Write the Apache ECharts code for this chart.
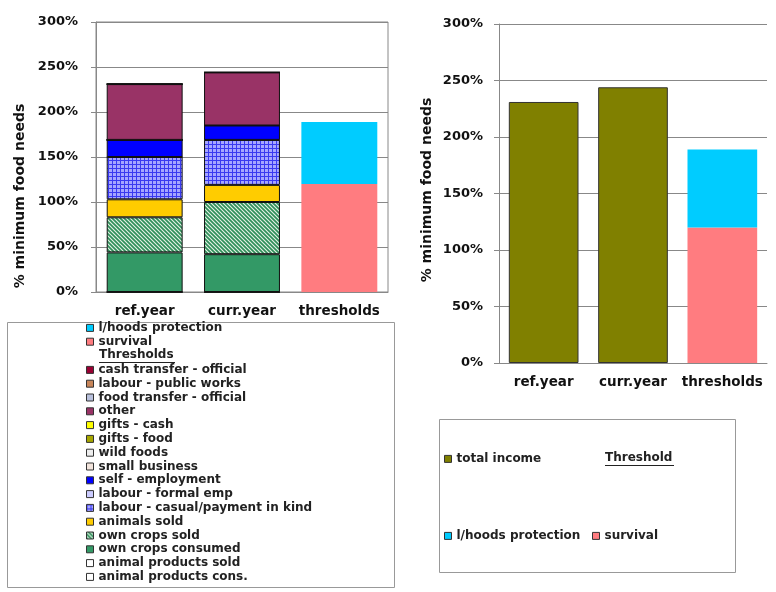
<!DOCTYPE html>
<html><head><meta charset="utf-8">
<script src="https://cdn.jsdelivr.net/npm/echarts@6/dist/echarts.min.js"></script>
<style>html,body{margin:0;padding:0;background:#fff}#c{width:776px;height:592px}</style>
</head><body><div id="c"></div>
<script>
// ---------- data ----------
const categories = ['ref.year', 'curr.year', 'thresholds'];
const yMin = 0, yMax = 300, yStep = 50;

const animalProductsCons   = [0, 0, '-'];
const animalProductsSold   = [0, 0, '-'];
const ownCropsConsumed     = [44, 42, '-'];
const ownCropsSold         = [39, 58, '-'];
const animalsSold          = [20, 19, '-'];
const labourCasual         = [47, 50, '-'];
const labourFormal         = [0, 0, '-'];
const selfEmployment       = [19, 16, '-'];
const smallBusiness        = [0, 0, '-'];
const wildFoods            = [0, 0, '-'];
const giftsFood            = [0, 0, '-'];
const giftsCash            = [0, 0, '-'];
const other                = [62, 59, '-'];
const foodTransfer         = [0, 0, '-'];
const labourPublicWorks    = [0, 0, '-'];
const cashTransfer         = [0, 0, '-'];
const survival             = ['-', '-', 120];
const livelihoodsProtect   = ['-', '-', 69];
const totalIncome          = [231, 244, '-'];

// ---------- styles ----------
const FONT = 'DejaVu Sans';
function hatchPattern() {
  const c = document.createElement('canvas'); c.width = 4; c.height = 4;
  const g = c.getContext('2d');
  g.fillStyle = '#2f8f5a'; g.fillRect(0, 0, 4, 4);
  g.strokeStyle = '#e6f2e6'; g.lineWidth = 1.1;
  g.beginPath();
  g.moveTo(-1, -1); g.lineTo(5, 5);
  g.moveTo(-1, 3); g.lineTo(1, 5);
  g.moveTo(3, -1); g.lineTo(5, 1);
  g.stroke();
  return c;
}
function gridPattern() {
  const c = document.createElement('canvas'); c.width = 4; c.height = 4;
  const g = c.getContext('2d');
  g.fillStyle = '#a6a6ff'; g.fillRect(0, 0, 4, 4);
  g.fillStyle = '#3a3af0';
  g.fillRect(0, 0, 4, 1); g.fillRect(0, 0, 1, 4);
  return c;
}
const hatch = { image: hatchPattern(), repeat: 'repeat' };
const gridFill = { image: gridPattern(), repeat: 'repeat' };

const leftDefs = [
  ['animal products cons.', animalProductsCons, '#ffffff'],
  ['animal products sold', animalProductsSold, '#ffffff'],
  ['own crops consumed', ownCropsConsumed, '#339966'],
  ['own crops sold', ownCropsSold, hatch],
  ['animals sold', animalsSold, '#ffcc00'],
  ['labour - casual/payment in kind', labourCasual, gridFill],
  ['labour - formal emp', labourFormal, '#ccccff'],
  ['self - employment', selfEmployment, '#0000ff'],
  ['small business', smallBusiness, '#f2e4dc'],
  ['wild foods', wildFoods, '#eeeeee'],
  ['gifts - food', giftsFood, '#a6a600'],
  ['gifts - cash', giftsCash, '#ffff00'],
  ['other', other, '#993366'],
  ['food transfer - official', foodTransfer, '#b8c0dc'],
  ['labour - public works', labourPublicWorks, '#c8865a'],
  ['cash transfer - official', cashTransfer, '#990033']
];

const series = leftDefs.map(([name, data, color]) => ({
  name, type: 'bar', stack: 'L', xAxisIndex: 0, yAxisIndex: 0,
  barWidth: '78%', data,
  itemStyle: { color, borderColor: '#111', borderWidth: 1 }
}));
series.push(
  { name: 'survival', type: 'bar', stack: 'L', xAxisIndex: 0, yAxisIndex: 0, barWidth: '78%',
    data: survival, itemStyle: { color: '#ff7c80' } },
  { name: 'l/hoods protection', type: 'bar', stack: 'L', xAxisIndex: 0, yAxisIndex: 0, barWidth: '78%',
    data: livelihoodsProtect, itemStyle: { color: '#00ccff' } },
  { name: 'total income', type: 'bar', stack: 'R', xAxisIndex: 1, yAxisIndex: 1, barWidth: '78%',
    data: totalIncome, itemStyle: { color: '#808000', borderColor: '#333', borderWidth: 1 } },
  { name: 'survival', type: 'bar', stack: 'R', xAxisIndex: 1, yAxisIndex: 1, barWidth: '78%',
    data: survival, itemStyle: { color: '#ff7c80' } },
  { name: 'l/hoods protection', type: 'bar', stack: 'R', xAxisIndex: 1, yAxisIndex: 1, barWidth: '78%',
    data: livelihoodsProtect, itemStyle: { color: '#00ccff' } }
);

const legendText = { fontFamily: FONT, fontWeight: 'bold', fontSize: 12, color: '#222', lineHeight: 13.8 };
function legend(left, top, data, orient) {
  return {
    left, top, orient: orient || 'vertical', data, padding: 0, itemGap: 0,
    itemWidth: 7, itemHeight: 7, icon: 'rect', selectedMode: false,
    itemStyle: { borderColor: '#333', borderWidth: 1 },
    textStyle: legendText
  };
}

const axisLabel = (margin) => ({
  formatter: '{value}%', fontFamily: FONT, fontWeight: 'bold', fontSize: 13, color: '#111', margin
});
const catLabel = { fontFamily: FONT, fontWeight: 'bold', fontSize: 13.5, color: '#111', margin: 12,
                   interval: 0, hideOverlap: false };
const gray = '#888';

const option = {
  animation: false,
  backgroundColor: '#fff',
  grid: [
    { left: 96, top: 22, width: 292, height: 270, show: true, borderColor: gray, borderWidth: 1 },
    { left: 499, top: 24, width: 268, height: 339 }
  ],
  xAxis: [
    { type: 'category', gridIndex: 0, data: categories,
      axisLine: { lineStyle: { color: gray } },
      axisTick: { length: 4, lineStyle: { color: gray } }, axisLabel: catLabel },
    { type: 'category', gridIndex: 1, data: categories,
      axisLine: { lineStyle: { color: gray } },
      axisTick: { length: 4, lineStyle: { color: gray } }, axisLabel: catLabel }
  ],
  yAxis: [
    { type: 'value', gridIndex: 0, min: yMin, max: yMax, interval: yStep,
      axisLine: { show: true, lineStyle: { color: gray } },
      axisTick: { show: true, length: 5, lineStyle: { color: gray } },
      splitLine: { lineStyle: { color: gray } }, axisLabel: axisLabel(18) },
    { type: 'value', gridIndex: 1, min: yMin, max: yMax, interval: yStep,
      axisLine: { show: true, lineStyle: { color: gray } },
      axisTick: { show: true, length: 5, lineStyle: { color: gray } },
      splitLine: { lineStyle: { color: gray } }, axisLabel: axisLabel(16) }
  ],
  legend: [
    legend(86, 321, ['l/hoods protection', 'survival']),
    legend(86, 363, leftDefs.map(d => d[0]).reverse()),
    legend(444, 452, ['total income']),
    legend(444, 529, ['l/hoods protection']),
    legend(592, 529, ['survival'])
  ],
  graphic: [
    { type: 'rect', shape: { x: 7.5, y: 322.5, width: 387, height: 265 },
      style: { fill: 'none', stroke: '#999', lineWidth: 1 }, z: -1 },
    { type: 'rect', shape: { x: 439.5, y: 419.5, width: 296, height: 153 },
      style: { fill: 'none', stroke: '#999', lineWidth: 1 }, z: -1 },
    { type: 'text', x: 20, y: 196, rotation: Math.PI / 2,
      style: { text: '% minimum food needs', fontFamily: FONT, fontWeight: 'bold', fontSize: 14,
               fill: '#111', align: 'center', verticalAlign: 'middle' } },
    { type: 'text', x: 427, y: 190, rotation: Math.PI / 2,
      style: { text: '% minimum food needs', fontFamily: FONT, fontWeight: 'bold', fontSize: 14,
               fill: '#111', align: 'center', verticalAlign: 'middle' } },
    { type: 'text', x: 99, y: 355,
      style: { text: 'Thresholds', fontFamily: FONT, fontWeight: 'bold', fontSize: 12,
               fill: '#222', align: 'left', verticalAlign: 'middle' } },
    { type: 'line', shape: { x1: 99, y1: 362.5, x2: 175, y2: 362.5 }, style: { stroke: '#222', lineWidth: 1 } },
    { type: 'text', x: 605, y: 458,
      style: { text: 'Threshold', fontFamily: FONT, fontWeight: 'bold', fontSize: 12,
               fill: '#222', align: 'left', verticalAlign: 'middle' } },
    { type: 'line', shape: { x1: 605, y1: 465.5, x2: 674, y2: 465.5 }, style: { stroke: '#222', lineWidth: 1 } }
  ],
  series
};
echarts.init(document.getElementById('c')).setOption(option);
</script>
</body></html>
